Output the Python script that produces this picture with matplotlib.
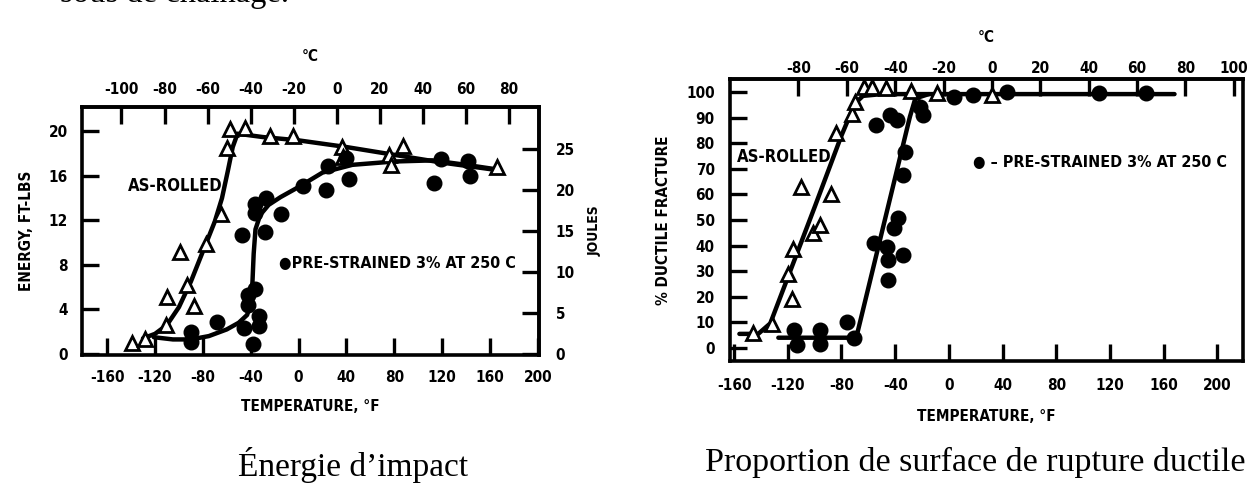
import matplotlib
matplotlib.use("Agg")
import matplotlib.pyplot as plt
import matplotlib.font_manager as fm

# ---------------- data ----------------
# Left panel: Charpy impact energy (ft-lb) vs temperature (deg F)
ar_T = [-139, -128, -111, -110, -99, -93, -87, -77, -65, -60, -57, -45, -24, -5, 36, 37, 76, 87, 77, 166]
ar_E = [1.0, 1.3, 2.6, 5.1, 9.2, 6.2, 4.3, 9.9, 12.6, 18.5, 20.2, 20.3, 19.6, 19.6, 18.6, 17.7, 17.9, 18.7, 17.0, 16.8]
ps_T = [-90, -90, -68, -46, -42, -42, -38, -33, -33, -36, -47, -28, -36, -36, -27, -15, 4, 23, 25, 42, 40, 113, 119, 142, 143]
ps_E = [2.0, 1.1, 2.9, 2.3, 5.3, 4.4, 0.9, 3.4, 2.5, 5.8, 10.7, 11.0, 13.5, 12.7, 14.0, 12.6, 15.1, 14.7, 16.9, 15.7, 17.6, 15.4, 17.5, 17.3, 16.0]
ar_fit_T = [-130, -120, -110, -100, -90, -80, -70, -64, -59, -55, -51, -30, 0, 40, 80, 120, 168]
ar_fit_E = [1.4, 1.8, 2.6, 4.2, 6.5, 9.2, 11.9, 14.0, 16.5, 18.6, 19.8, 19.5, 19.2, 18.6, 17.9, 17.2, 16.5]
ps_fit_T = [-121, -105, -90, -75, -60, -50, -43, -40, -38.5, -37.5, -36, -32, -25, -15, 0, 20, 45, 80, 112, 140, 165]
ps_fit_E = [1.5, 1.3, 1.3, 1.6, 2.2, 2.8, 3.5, 4.5, 6.5, 9.0, 11.2, 12.5, 13.4, 14.1, 15.0, 16.3, 17.0, 17.3, 17.4, 17.0, 16.6]

# Right panel: % ductile fracture vs temperature (deg F)
ar2_T = [-146, -132, -117, -120, -116, -101, -96, -88, -110, -84, -72, -70, -63, -57, -47, -28, -9, 32]
ar2_P = [6, 9.3, 19, 29, 38.5, 45, 48, 60, 63, 84, 91.5, 96, 102, 102, 101.5, 100.3, 99.5, 99]
ps2_T = [-115, -113, -96, -96, -76, -71, -56, -46, -45, -45, -41, -38, -34, -33, -34, -54, -44, -39, -21.5, -19, 4, 18, 43, 112, 147]
ps2_P = [7, 1, 7, 1.5, 10.3, 4, 41, 39.6, 34.4, 26.6, 46.8, 50.7, 36.3, 76.7, 67.6, 87, 91, 89, 94.3, 91, 98.2, 99, 100, 99.5, 99.5]
ar2_fit_T = [-156, -142, -133, -120, -100, -80, -70, -64, -50, 0, 80, 168]
ar2_fit_P = [5.5, 5.5, 9.6, 27.5, 55, 83, 95.5, 98.5, 99.2, 99.2, 99.2, 99.2]
ps2_fit_T = [-127, -69, -29, -25, -15]
ps2_fit_P = [4, 4, 90.4, 97.5, 99.2]

F_ticks = [-160, -120, -80, -40, 0, 40, 80, 120, 160, 200]
C_ticks_left = [-100, -80, -60, -40, -20, 0, 20, 40, 60, 80]
C_ticks_right = [-80, -60, -40, -20, 0, 20, 40, 60, 80, 100]
E_ticks = [0, 4, 8, 12, 16, 20]
J_ticks = [0, 5, 10, 15, 20, 25]
P_ticks = [0, 10, 20, 30, 40, 50, 60, 70, 80, 90, 100]

# ---------------- fonts ----------------
names = {f.name for f in fm.fontManager.ttflist}
if "Liberation Sans Narrow" in names:
    BF = dict(family=["Liberation Sans Narrow", "DejaVu Sans"], weight="bold")
else:
    BF = dict(family=["DejaVu Sans"], weight="bold", stretch="condensed")
SERIF = ["Liberation Serif", "DejaVu Serif"]

W, H = 1256, 483
fig = plt.figure(figsize=(W / 100, H / 100), dpi=100)
fig.patch.set_facecolor("white")

def f2c(f):
    return (f - 32.0) / 1.8

def c2f(c):
    return c * 1.8 + 32.0

def ft2j(e):
    return e * 1.3558

def j2ft(j):
    return j / 1.3558

SP_LW = 2.6
TK = dict(direction="in", length=12, width=2.4, color="black")

def style_ticklabels(axis_obj):
    for lab in axis_obj.get_ticklabels():
        lab.set_fontproperties(fm.FontProperties(size=11, **BF))

def style(ax):
    for s in ax.spines.values():
        s.set_linewidth(SP_LW)

# ================= LEFT PANEL =================
ax1 = fig.add_axes([82 / W, 1 - 355 / H, 457 / W, 248 / H])
ax1.set_xlim(-181, 201)
ax1.set_ylim(-0.1, 22.2)
style(ax1)
ax1.set_xticks(F_ticks)
ax1.set_xticklabels([str(t) for t in F_ticks])
ax1.set_yticks(E_ticks)
ax1.set_yticklabels([str(t) for t in E_ticks])
ax1.tick_params(axis="x", pad=11, **TK)
ax1.tick_params(axis="y", pad=10, **TK)
style_ticklabels(ax1.xaxis)
style_ticklabels(ax1.yaxis)

ax1.plot(ar_fit_T, ar_fit_E, color="black", lw=3.2, solid_capstyle="round", zorder=2)
ax1.plot(ps_fit_T, ps_fit_E, color="black", lw=3.2, solid_capstyle="round", zorder=2)
ax1.plot(ar_T, ar_E, linestyle="none", marker="^", ms=10, mfc="white", mec="black", mew=2, zorder=3)
ax1.plot(ps_T, ps_E, linestyle="none", marker="o", ms=10.5, mfc="black", mec="black", zorder=3)

ax1.text(-103, 15.1, "AS-ROLLED", ha="center", va="center", fontsize=12, **BF)
ax1.text(-16, 8.1, "\u25cfPRE-STRAINED 3% AT 250 C", ha="left", va="center", fontsize=11.5, **BF)

ax1.set_xlabel("TEMPERATURE, \u00b0F", fontsize=11, labelpad=10, **BF)
ax1.set_ylabel("ENERGY, FT-LBS", fontsize=11, labelpad=11, **BF)

top1 = ax1.secondary_xaxis("top", functions=(f2c, c2f))
top1.set_xticks(C_ticks_left)
top1.set_xticklabels([str(t) for t in C_ticks_left])
top1.tick_params(pad=7, **TK)
style_ticklabels(top1.xaxis)
top1.spines["top"].set_linewidth(SP_LW)
top1.set_xlabel("\u00b0C", fontsize=11, labelpad=15, **BF)

right1 = ax1.secondary_yaxis("right", functions=(ft2j, j2ft))
right1.set_yticks(J_ticks)
right1.set_yticklabels([str(t) for t in J_ticks])
right1.tick_params(pad=12, **TK)
style_ticklabels(right1.yaxis)
right1.spines["right"].set_linewidth(SP_LW)
right1.set_ylabel("JOULES", fontsize=10, labelpad=9, **BF)

# ================= RIGHT PANEL =================
ax2 = fig.add_axes([730 / W, 1 - 361 / H, 513 / W, 282 / H])
ax2.set_xlim(-163, 219)
ax2.set_ylim(-5.1, 105.1)
style(ax2)
ax2.set_xticks(F_ticks)
ax2.set_xticklabels([str(t) for t in F_ticks])
ax2.set_yticks(P_ticks)
ax2.set_yticklabels([str(t) for t in P_ticks])
ax2.tick_params(axis="x", pad=12, **TK)
ax2.tick_params(axis="y", pad=11, **TK)
style_ticklabels(ax2.xaxis)
style_ticklabels(ax2.yaxis)

ax2.plot(ar2_fit_T, ar2_fit_P, color="black", lw=3.2, solid_capstyle="round", zorder=2)
ax2.plot(ps2_fit_T, ps2_fit_P, color="black", lw=3.2, solid_capstyle="round", zorder=2)
ax2.plot(ar2_T, ar2_P, linestyle="none", marker="^", ms=10, mfc="white", mec="black", mew=2, zorder=3)
ax2.plot(ps2_T, ps2_P, linestyle="none", marker="o", ms=10.5, mfc="black", mec="black", zorder=3)

ax2.text(-158, 74.6, "AS-ROLLED", ha="left", va="center", fontsize=12, **BF)
ax2.text(18, 72.3, "\u25cf \u2013 PRE-STRAINED 3% AT 250 C", ha="left", va="center", fontsize=11.5, **BF)

ax2.set_xlabel("TEMPERATURE, \u00b0F", fontsize=11, labelpad=12, **BF)
ax2.set_ylabel("% DUCTILE FRACTURE", fontsize=11, labelpad=11, **BF)

top2 = ax2.secondary_xaxis("top", functions=(f2c, c2f))
top2.set_xticks(C_ticks_right)
top2.set_xticklabels([str(t) for t in C_ticks_right])
top2.tick_params(pad=2, **TK)
style_ticklabels(top2.xaxis)
top2.spines["top"].set_linewidth(SP_LW)
top2.set_xlabel("\u00b0C", fontsize=11, labelpad=14, **BF)

# ---------------- captions ----------------
fig.text(60 / W, 1 - 2 / H, "sous de cha\u00eenage.", ha="left", va="baseline",
         fontsize=23.5, family=SERIF)
fig.text(353 / W, 1 - 465 / H, "\u00c9nergie d\u2019impact", ha="center", va="center",
         fontsize=24, family=SERIF)
fig.text(975 / W, 1 - 462 / H, "Proportion de surface de rupture ductile", ha="center", va="center",
         fontsize=24.5, family=SERIF)

fig.savefig("out.png", dpi=100, facecolor="white")
